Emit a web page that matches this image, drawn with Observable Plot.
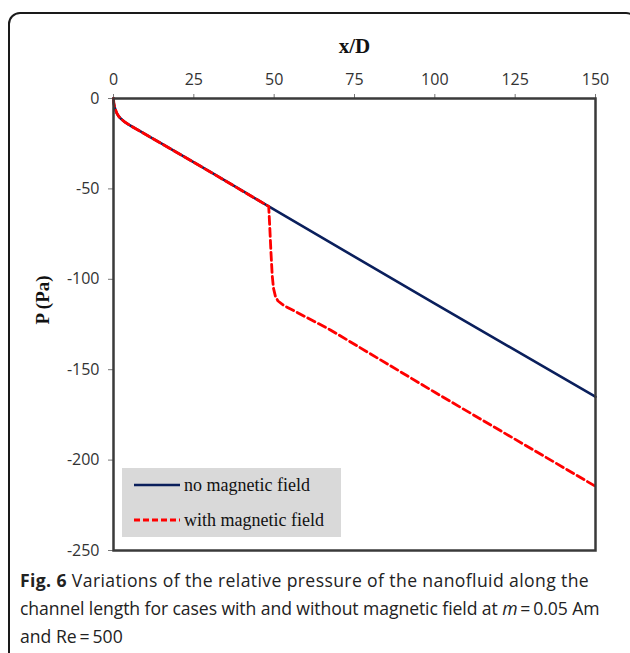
<!DOCTYPE html>
<html>
<head>
<meta charset="utf-8">
<script src="https://cdn.jsdelivr.net/npm/d3@7"></script>
<script src="https://cdn.jsdelivr.net/npm/@observablehq/plot@0.6"></script>
<style>
  html, body { margin: 0; padding: 0; background: #fff; overflow: hidden; }
  #wrap { position: relative; width: 630px; height: 653px; overflow: hidden; }
  #border { position: absolute; left: 8px; top: 12px; width: 630px; height: 660px;
            border: 2px solid #1a1a1a; border-radius: 12px; box-sizing: border-box; }
  #chart { position: absolute; left: 0; top: 0; }
  #chart svg g[aria-label="x-axis tick label"],
  #chart svg g[aria-label="y-axis tick label"] { font-size: 16px; fill: #333; }
  #legend { position: absolute; left: 122px; top: 468px; width: 219px; height: 69px; background: #d9d9d9;
            font-family: "Liberation Serif", "DejaVu Serif", serif; font-size: 18px; color: #111; }
  #legend .item { position: absolute; left: 12px; display: flex; align-items: center; }
  #legend svg { margin-right: 4px; }
  #caption { position: absolute; left: 20px; top: 566px; width: 610px; white-space: nowrap;
             font-family: "Open Sans", "Noto Sans", sans-serif; font-size: 17.6px; line-height: 28px; color: #222; }
  #caption .l1 { letter-spacing: 0.38px; }
  #caption .l2 { letter-spacing: -0.08px; }
</style>
</head>
<body>
<div id="wrap">
  <div id="border"></div>
  <div id="chart"></div>
  <div id="legend"></div>
  <div id="caption"><span class="l1"><b>Fig. 6</b> Variations of the relative pressure of the nanofluid along the</span><br><span class="l2">channel length for cases with and without magnetic field at <i>m</i>&#8201;=&#8201;0.05 Am</span><br>and Re&#8201;=&#8201;500</div>
</div>
<script>
// ---- data ----
const seriesNames = ["no magnetic field", "with magnetic field"];
const xNo   = [0, 0.1, 0.4, 1, 1.6, 2.5, 3.5, 5, 8, 15, 30, 48.3, 100, 150];
const pNo   = [0, -2.5, -5, -8, -9.8, -11.5, -13, -14.7, -17.8, -25, -40.5, -59.7, -113.5, -165];
const xWith = [0, 0.1, 0.4, 1, 1.6, 2.5, 3.5, 5, 8, 15, 30, 48.3, 48.6, 49.0, 49.4, 49.8, 50.4, 51.2, 53, 54, 67.5, 100, 150];
const pWith = [0, -2.5, -5, -8, -9.8, -11.5, -13, -14.7, -17.8, -25, -40.5, -59.7, -70, -85, -98, -105, -109.5, -112, -114.5, -115.4, -128, -162.5, -214.5];
const xTicks = [0, 25, 50, 75, 100, 125, 150];
const yTicks = [0, -50, -100, -150, -200, -250];
const colors = ["#0a1f5c", "#ff0000"];

const noData = xNo.map((x, i) => ({x, p: pNo[i]}));
const withData = xWith.map((x, i) => ({x, p: pWith[i]}));

const tickFont = '"Liberation Sans Narrow", "Open Sans", sans-serif';

const chart = Plot.plot({
  width: 630,
  height: 560,
  marginTop: 98,
  marginLeft: 113,
  marginRight: 35,
  marginBottom: 10,
  style: { fontFamily: tickFont, fontSize: "16px", color: "#333", background: "transparent" },
  x: { domain: [0, 150] },
  y: { domain: [-250, 0] },
  marks: [
    Plot.axisX({ anchor: "top", ticks: xTicks, tickSize: 5, tickPadding: 9, tickFormat: d => `${d}`, label: null, stroke: "#777" }),
    Plot.axisY({ anchor: "left", ticks: yTicks, tickSize: 5, tickPadding: 9, tickFormat: d => `${d}`, label: null, stroke: "#777" }),
    Plot.line(noData, { x: "x", y: "p", stroke: colors[0], strokeWidth: 2.6, curve: "monotone-x" }),
    Plot.line(withData, { x: "x", y: "p", stroke: colors[1], strokeWidth: 2.8, strokeDasharray: "8,4", curve: "linear" }),
    Plot.frame({ stroke: "#3a3a3a", strokeWidth: 2.5 }),
    Plot.text(["x/D"], { frameAnchor: "top", dy: -60, fontWeight: "bold", fontFamily: '"Liberation Serif", serif', fontSize: 21, fill: "#111" }),
    Plot.text(["P (Pa)"], { frameAnchor: "left", dx: -71, rotate: -90, fontWeight: "bold", fontFamily: '"Liberation Serif", serif', fontSize: 19, fill: "#111" })
  ]
});
document.getElementById("chart").appendChild(chart);

// legend
const legend = document.getElementById("legend");
seriesNames.forEach((name, i) => {
  const item = document.createElement("div");
  item.className = "item";
  item.style.top = (i === 0 ? 4 : 39) + "px";
  const dash = i === 1 ? 'stroke-dasharray="6,3"' : "";
  item.innerHTML = `<svg width="46" height="26"><line x1="0" x2="46" y1="13" y2="13" stroke="${colors[i]}" stroke-width="${i===0?2.6:2.8}" ${dash}/></svg><span>${name}</span>`;
  legend.appendChild(item);
});
</script>
</body>
</html>
